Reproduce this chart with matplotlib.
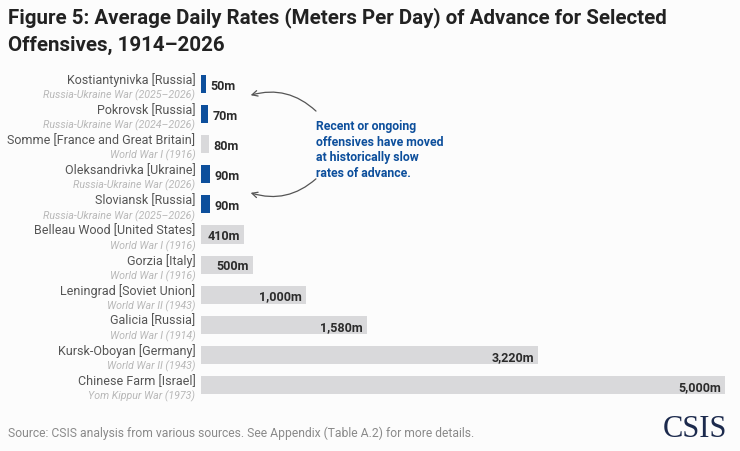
import matplotlib
matplotlib.use("Agg")
import matplotlib.pyplot as plt
from matplotlib.patches import FancyArrowPatch

# data
offensives = ["Kostiantynivka [Russia]", "Pokrovsk [Russia]", "Somme [France and Great Britain]",
              "Oleksandrivka [Ukraine]", "Sloviansk [Russia]", "Belleau Wood [United States]",
              "Gorzia [Italy]", "Leningrad [Soviet Union]", "Galicia [Russia]",
              "Kursk-Oboyan [Germany]", "Chinese Farm [Israel]"]
wars = ["Russia-Ukraine War (2025\u20132026)", "Russia-Ukraine War (2024\u20132026)", "World War I (1916)",
        "Russia-Ukraine War (2026)", "Russia-Ukraine War (2025\u20132026)", "World War I (1916)",
        "World War I (1916)", "World War II (1943)", "World War I (1914)",
        "World War II (1943)", "Yom Kippur War (1973)"]
rates = [50, 70, 80, 90, 90, 410, 500, 1000, 1580, 3220, 5000]
recent = [True, True, False, True, True, False, False, False, False, False, False]

BLUE = "#0d4f9c"
GRAY = "#d9d9db"
BG = "#fcfcfc"
FONT = "Roboto"

W, H = 740, 452
fig = plt.figure(figsize=(W / 100, H / 100), dpi=100, facecolor=BG)
ax = fig.add_axes([201 / W, 1 - 401 / H, (725 - 201) / W, (401 - 70) / H])
ax.set_facecolor(BG)

ypos = list(range(len(rates)))
colors = [BLUE if r else GRAY for r in recent]
ax.barh(ypos, rates, height=0.6, color=colors)
ax.set_xlim(0, 5000)
ax.set_ylim(len(rates) - 0.5, -0.5)
ax.axis("off")

for y, v, name, war in zip(ypos, rates, offensives, wars):
    lab = f"{v:,}m"
    # small bars get the label outside, longer bars inside the end
    if v < 300:
        ax.annotate(lab, (v, y), xytext=(3, -1), textcoords="offset points", ha="left", va="center",
                    fontsize=9, fontweight="bold", color="#2b2b2b", family=FONT)
    else:
        ax.annotate(lab, (v, y), xytext=(-3, -1), textcoords="offset points", ha="right", va="center",
                    fontsize=9, fontweight="bold", color="#2b2b2b", family=FONT)
    ax.annotate(name, (0, y), xytext=(-4, 3.5), textcoords="offset points", ha="right", va="center",
                fontsize=9, color="#555555", family=FONT)
    ax.annotate(war, (0, y), xytext=(-4, -7.5), textcoords="offset points", ha="right", va="center",
                fontsize=7.7, color="#b8b8b8", style="italic", family=FONT)

fig.text(8 / W, 1 - 18 / H, "Figure 5: Average Daily Rates (Meters Per Day) of Advance for Selected",
         fontsize=14.8, fontweight="bold", color="#222222", family=FONT, va="center")
fig.text(8 / W, 1 - 45 / H, "Offensives, 1914\u20132026",
         fontsize=14.8, fontweight="bold", color="#222222", family=FONT, va="center")

fig.text(316 / W, 1 - 150 / H, "Recent or ongoing\noffensives have moved\nat historically slow\nrates of advance.",
         fontsize=8.8, fontweight="bold", color=BLUE, family=FONT, va="center", linespacing=1.25)

fig.add_artist(FancyArrowPatch((318 / W, 1 - 114 / H), (248 / W, 1 - 97 / H),
                               transform=fig.transFigure, arrowstyle="->", mutation_scale=10,
                               color="#555555", lw=0.9, connectionstyle="arc3,rad=0.3"))
fig.add_artist(FancyArrowPatch((318 / W, 1 - 178 / H), (248 / W, 1 - 193 / H),
                               transform=fig.transFigure, arrowstyle="->", mutation_scale=10,
                               color="#555555", lw=0.9, connectionstyle="arc3,rad=-0.3"))

fig.text(8 / W, 1 - 433 / H, "Source: CSIS analysis from various sources. See Appendix (Table A.2) for more details.",
         fontsize=8.7, color="#8a8a8a", family=FONT, va="center")
fig.text(727 / W, 1 - 430 / H, "CSIS", fontsize=22, color="#1c2a4d", family="Liberation Serif",
         ha="right", va="center")

fig.savefig("out.png", dpi=100, facecolor=BG)
